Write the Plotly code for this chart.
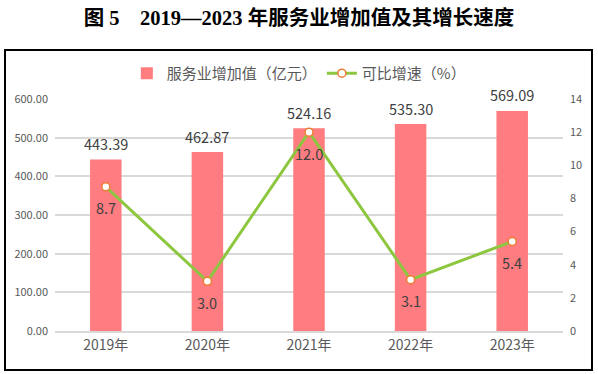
import plotly.graph_objects as go

years = ["2019年", "2020年", "2021年", "2022年", "2023年"]
value_added = [443.39, 462.87, 524.16, 535.30, 569.09]
growth = [8.7, 3.0, 12.0, 3.1, 5.4]
bar_name = "服务业增加值（亿元）"
line_name = "可比增速（%）"
title = "图 5\u30002019—2023 年服务业增加值及其增长速度"

cjk = "Noto Sans CJK SC, Noto Sans, sans-serif"

fig = go.Figure()
fig.add_trace(go.Bar(
    x=years, y=value_added, name=bar_name,
    marker=dict(color="#FF7C80", line=dict(width=0)),
    width=0.31,
))
fig.add_trace(go.Scatter(
    x=years, y=growth, name=line_name, yaxis="y2",
    mode="lines+markers",
    line=dict(color="#8DC63F", width=3),
    marker=dict(size=8, color="white", line=dict(color="#ED7D31", width=1.5)),
    cliponaxis=False,
))

annotations = []
for x, v in zip(years, value_added):
    annotations.append(dict(x=x, y=v, xref="x", yref="y", text=f"{v:.2f}", showarrow=False,
                            yanchor="middle", yshift=16,
                            font=dict(size=14.5, color="#404040", family=cjk)))
for x, v in zip(years, growth):
    annotations.append(dict(x=x, y=v, xref="x", yref="y2", text=f"{v:.1f}", showarrow=False,
                            yanchor="middle", yshift=-21,
                            font=dict(size=14.5, color="#404040", family=cjk)))

fig.update_layout(
    width=598, height=374,
    margin=dict(l=55, r=35, t=99, b=43, autoexpand=False),
    paper_bgcolor="white", plot_bgcolor="white",
    font=dict(family=cjk, color="#595959"),
    title=dict(text="<b>" + title + "</b>", x=0.5, xanchor="center", y=0.953, yanchor="middle",
               font=dict(size=20.5, color="black", family="Liberation Serif, Noto Sans CJK SC, serif")),
    legend=dict(orientation="h", x=0.48, xanchor="center", y=1.11, yanchor="middle",
                font=dict(size=15, color="#595959"), traceorder="normal",
                itemwidth=30, bgcolor="rgba(0,0,0,0)"),
    showlegend=True,
    bargap=0.69,
    annotations=annotations,
    xaxis=dict(type="category", showgrid=False, showline=True, linecolor="#D9D9D9", linewidth=1.5,
               ticks="", tickfont=dict(size=14, color="#595959")),
    yaxis=dict(range=[0, 600], dtick=100, tickformat=".2f", showgrid=True, gridcolor="#D9D9D9",
               gridwidth=1.5, zeroline=False, showline=False, ticks="", ticklabelstandoff=6,
               tickfont=dict(size=11, color="#595959")),
    yaxis2=dict(range=[0, 14], dtick=2, overlaying="y", side="right", showgrid=False,
                zeroline=False, showline=False, ticks="", ticklabelstandoff=6,
                tickfont=dict(size=11, color="#595959")),
    shapes=[dict(type="rect", xref="paper", yref="paper",
                 x0=-50/508, x1=1 + 29/508, y0=-39/232, y1=1 + 49/232,
                 line=dict(color="black", width=2), fillcolor="rgba(0,0,0,0)", layer="below")],
)

fig.write_html("out.html", config={"displayModeBar": False},
               post_script="document.body.style.margin='0';document.body.style.padding='0';")
